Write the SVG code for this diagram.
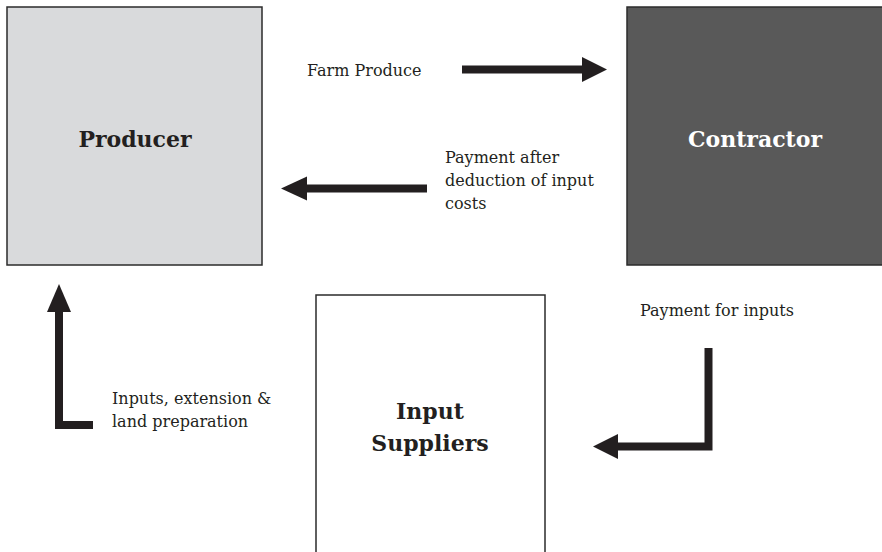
<svg xmlns="http://www.w3.org/2000/svg" width="882" height="552" viewBox="0 0 882 552">
  <style>
    .box { stroke: #2b2b2b; stroke-width: 1.5; }
    .title { font-family: "DejaVu Serif", "Liberation Serif", serif; font-weight: bold; font-size: 22px; text-anchor: middle; }
    .lbl { font-family: "DejaVu Serif", "Liberation Serif", serif; font-size: 16px; fill: #231f20; }
    .arrow { fill: #231f20; }
    .shaft { fill: none; stroke: #231f20; stroke-width: 8; stroke-linejoin: miter; }
  </style>
  <rect width="882" height="552" fill="#ffffff"/>

  <g id="producer">
    <rect class="box" x="7" y="7" width="255" height="258" fill="#d9dadc"/>
    <text class="title" x="135" y="147" fill="#231f20">Producer</text>
  </g>

  <g id="contractor">
    <rect class="box" x="627" y="7" width="262" height="258" fill="#595959"/>
    <text class="title" x="755" y="147" fill="#ffffff">Contractor</text>
  </g>

  <g id="input-suppliers">
    <rect class="box" x="316" y="295" width="229" height="270" fill="#ffffff"/>
    <text class="title" x="430" y="419" fill="#231f20">Input</text>
    <text class="title" x="430" y="451" fill="#231f20">Suppliers</text>
  </g>

  <g id="connectors">
    <!-- Farm Produce: producer to contractor -->
    <line class="shaft" x1="462" y1="69.5" x2="584" y2="69.5"/>
    <polygon class="arrow" points="582,57 607,69.5 582,82"/>
    <text class="lbl" x="307" y="76">Farm Produce</text>

    <!-- payment back to producer -->
    <line class="shaft" x1="427" y1="188.5" x2="305" y2="188.5"/>
    <polygon class="arrow" points="307,176.5 281,188.5 307,200.5"/>
    <text class="lbl" x="445" y="163">Payment after</text>
    <text class="lbl" x="445" y="186">deduction of input</text>
    <text class="lbl" x="445" y="209">costs</text>

    <!-- payment for inputs: contractor to input suppliers -->
    <polyline class="shaft" points="708.5,348 708.5,446.5 616,446.5"/>
    <polygon class="arrow" points="618,434 593,446.5 618,459"/>
    <text class="lbl" x="640" y="316">Payment for inputs</text>

    <!-- inputs, extension & land preparation: to producer -->
    <polyline class="shaft" points="93,425 59,425 59,310"/>
    <polygon class="arrow" points="47,312 59,284 71,312"/>
    <text class="lbl" x="112" y="404">Inputs, extension &amp;</text>
    <text class="lbl" x="112" y="427">land preparation</text>
  </g>
</svg>
